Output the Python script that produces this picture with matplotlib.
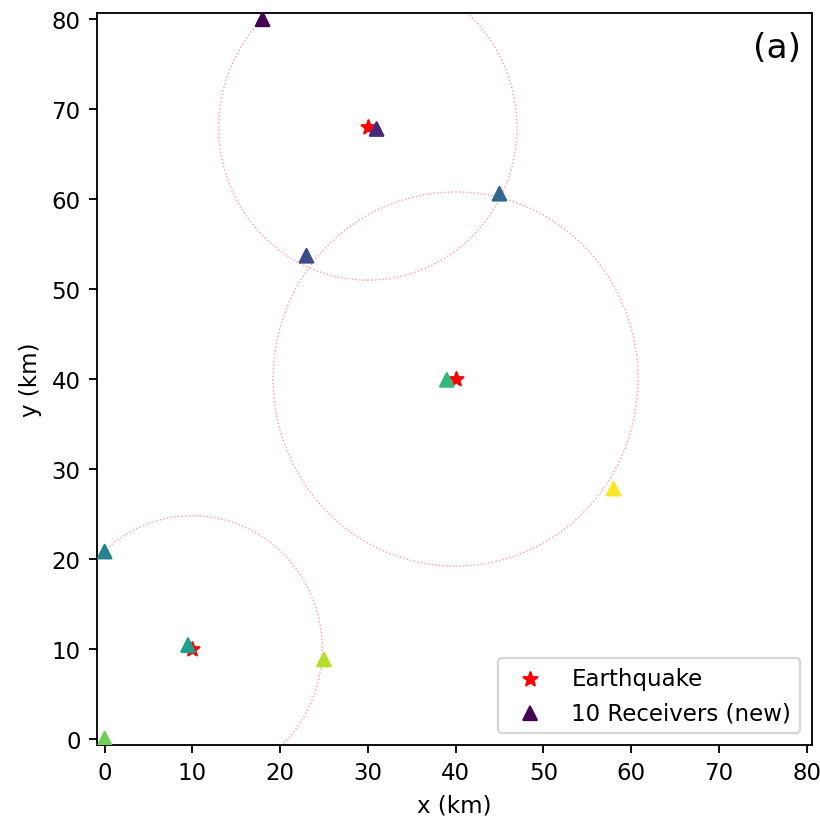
import numpy as np
from matplotlib import pyplot as plt
from matplotlib.patches import Circle

# earthquakes (km)
eq_x = [30, 40, 10]
eq_y = [68, 40, 10]
eq_r = [17.0, 20.8, 14.8]

# receivers (km), colour index 0..9
rec_x = [18, 31, 23, 45, 0, 9.5, 39, 0, 25, 58]
rec_y = [80, 67.8, 53.7, 60.6, 20.8, 10.4, 39.9, 0, 8.8, 27.8]
rec_c = [0, 1, 2, 3, 4, 5, 6, 7, 8, 9]

fig = plt.figure(figsize=(820 / 165, 827 / 165), dpi=165)
ax = fig.add_axes([0.118, 0.098, 0.872, 0.885])

for x, y, r in zip(eq_x, eq_y, eq_r):
    ax.add_patch(Circle((x, y), r, fill=False, color="red", alpha=0.4,
                        linestyle=":", linewidth=0.6))

ax.scatter(eq_x, eq_y, marker="*", color="red", s=40, label="Earthquake", zorder=3)
ax.scatter(rec_x, rec_y, marker="^", c=rec_c, cmap="viridis", s=34,
           label="10 Receivers (new)", zorder=3)

ax.set_xlim(-0.9, 80.6)
ax.set_ylim(-0.7, 80.7)
ax.set_xticks(np.arange(0, 81, 10))
ax.set_yticks(np.arange(0, 81, 10))
ax.set_xlabel("x (km)")
ax.set_ylabel("y (km)")
ax.text(0.985, 0.975, "(a)", transform=ax.transAxes, ha="right", va="top", fontsize=15)
ax.legend(loc="lower right")

fig.savefig("out.png", dpi=165)
